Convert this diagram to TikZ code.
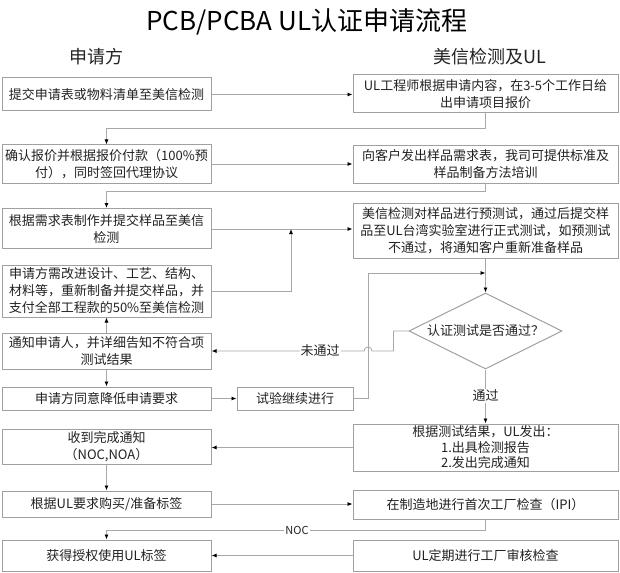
\documentclass[tikz,border=0pt]{standalone}
\usepackage{fontspec}
\newfontfamily\cjk{Noto Sans CJK SC}
\usetikzlibrary{arrows.meta,shapes.geometric}
\definecolor{boxgray}{HTML}{A0A0A0}
\definecolor{linegray}{HTML}{A8A8A8}
\definecolor{txt}{HTML}{222222}
\begin{document}
\begin{tikzpicture}[x=1pt,y=-1pt,
  bx/.style={draw=boxgray, line width=1pt, fill=white, inner sep=0pt, align=center, text=txt, font=\cjk\fontsize{13}{17}\selectfont},
  lbox/.style={bx, minimum width=209pt},
  rbox/.style={bx, minimum width=265pt},
  conn/.style={draw=linegray, line width=0.8pt},
  arr/.style={conn, -{Latex[length=5pt,width=4pt,color=black]}},
  lab/.style={fill=white, inner sep=1pt, text=txt, font=\cjk\fontsize{13}{15}\selectfont},
  head/.style={text=txt, font=\cjk\fontsize{18}{20}\selectfont},
]
\useasboundingbox (0,0) rectangle (620,572);
\fill[white] (0,0) rectangle (620,572);

\node[text=black, font=\cjk\fontsize{26}{30}\selectfont] (title) at (307,22) {PCB/PCBA UL认证申请流程};
\node[head] (hl) at (96,57) {申请方};
\node[head] (hr) at (490,57) {美信检测及UL};

% left column
\node[lbox, minimum height=33pt] (L1) at (106.5,94.5) {提交申请表或物料清单至美信检测};
\node[lbox, minimum height=38pt] (L2) at (106.5,164) {确认报价并根据报价付款（100\%预\\付），同时签回代理协议};
\node[lbox, minimum height=40pt] (L3) at (106.5,228.5) {根据需求表制作并提交样品至美信\\检测};
\node[lbox, minimum height=52pt] (L4) at (106.5,291) {申请方需改进设计、工艺、结构、\\材料等，重新制备并提交样品，并\\支付全部工程款的50\%至美信检测};
\node[lbox, minimum height=36pt] (L5) at (106.5,351) {通知申请人，并详细告知不符合项\\测试结果};
\node[lbox, minimum height=23pt] (L6) at (106.5,398.5) {申请方同意降低申请要求};
\node[bx, minimum width=116pt, minimum height=23pt] (B7) at (295,398.5) {试验继续进行};
\node[lbox, minimum height=35pt] (L8) at (106.5,447) {收到完成通知\\（NOC,NOA）};
\node[lbox, minimum height=26pt] (L9) at (106.5,504) {根据UL要求购买/准备标签};
\node[lbox, minimum height=31pt] (L10) at (106.5,555.5) {获得授权使用UL标签};

% right column
\node[rbox, minimum height=38pt] (R1) at (485.5,94) {UL工程师根据申请内容，在3-5个工作日给\\出申请项目报价};
\node[rbox, minimum height=37pt] (R2) at (485.5,164.5) {向客户发出样品需求表，我司可提供标准及\\样品制备方法培训};
\node[rbox, minimum height=55pt] (R3) at (485.5,231) {美信检测对样品进行预测试，通过后提交样\\品至UL台湾实验室进行正式测试，如预测试\\不通过，将通知客户重新准备样品};
\node[bx, diamond, aspect=2, minimum width=153pt, minimum height=76pt] (D) at (485.5,331) {认证测试是否通过？};
\node[rbox, minimum height=47pt, font=\cjk\fontsize{13}{15.5}\selectfont] (R4) at (485.5,447.5) {根据测试结果，UL发出：\\1.出具检测报告\\2.发出完成通知};
\node[rbox, minimum height=29pt] (R5) at (485.5,504.5) {在制造地进行首次工厂检查（IPI）};
\node[rbox, minimum height=31pt] (R6) at (485.5,555.5) {UL定期进行工厂审核检查};

\coordinate (j1) at (291,229);
\coordinate (j2) at (485.5,273);

% connectors
\draw[arr] (L1.east) -- (L1.east -| R1.west);
\draw[arr] (R1.south) -- ++(0,15) -| (L2.north);
\draw[arr] (L2.east) -- (L2.east -| R2.west);
\draw[arr] (R2.south) -- ++(0,8) -| (L3.north);
\draw[arr] (L3.east |- j1) -- (j1 -| R3.west);
\draw[arr] (L4.east) -| (j1);
\draw[arr] (R3.south) -- (D.north);
\draw[arr] (B7.east) -- ++(15,0) |- (j2);
\draw[arr] (D.west) -- ++(-15,0) -- ++(0,20) -- (372,351) arc[start angle=0, end angle=180, radius=4pt] -- (L5.east);
\node[lab] (nt) at (320,351) {未通过};
\draw[arr] (L5.north) -- (L4.south);
\draw[arr] (L5.south) -- (L6.north);
\draw[arr] (L6.east) -- (L6.east -| B7.west);
\draw[arr] (D.south) -- (R4.north);
\node[lab] (pt) at (485.5,396) {通过};
\draw[arr] (R4.west) -- (R4.west -| L8.east);
\draw[arr] (L8.south) -- (L9.north);
\draw[arr] (L9.east) -- (L9.east -| R5.west);
\draw[arr] (R5.south) -- ++(0,11) -| (L10.north);
\node[lab, font=\cjk\fontsize{11}{13}\selectfont] (noc) at (297,530) {NOC};
\draw[arr] (R6.west) -- (R6.west -| L10.east);
\end{tikzpicture}
\end{document}
